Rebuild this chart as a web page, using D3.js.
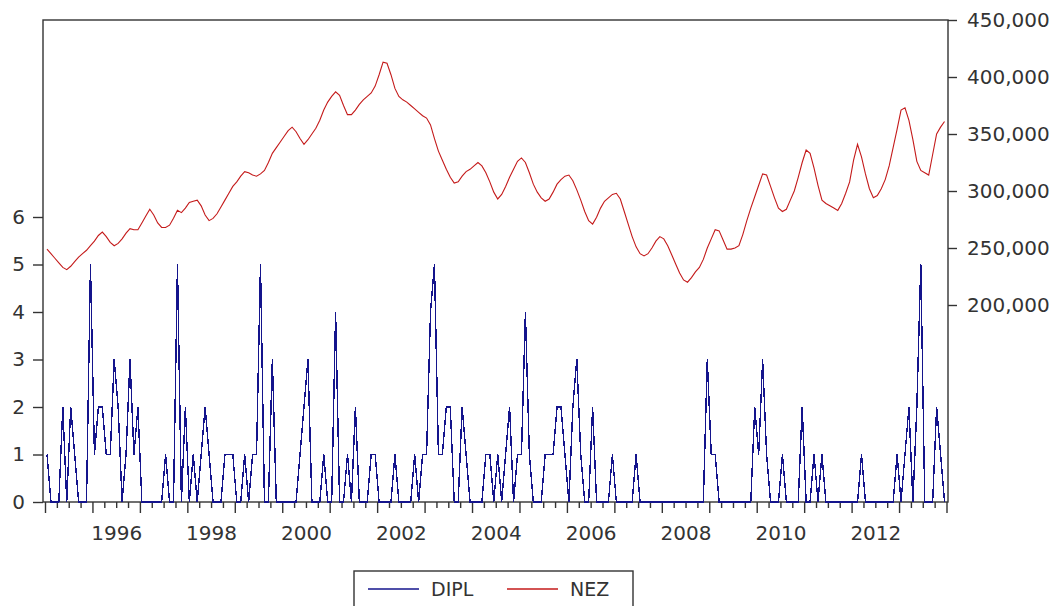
<!DOCTYPE html>
<html>
<head>
<meta charset="utf-8">
<script src="https://cdn.jsdelivr.net/npm/d3@7"></script>
<style>
  body { margin: 0; background: #fff; }
  svg { display: block; background: #fff; }
  text { font-family: "DejaVu Sans", sans-serif; fill: #333; }
</style>
</head>
<body>
<svg id="chart" width="1061" height="606"></svg>
<script>
// Monthly observations 1995M01 .. 2013M12 (228 months)
const startYear = 1995;
const endYear = 2014;

// DIPL, left axis
const dipl = [
  1, 0, 0, 0, 2, 0, 2, 1, 0, 0, 0, 5,   // 1995
  1, 2, 2, 1, 1, 3, 2, 0, 1, 3, 1, 2,   // 1996
  0, 0, 0, 0, 0, 0, 1, 0, 0, 5, 0, 2,   // 1997
  0, 1, 0, 1, 2, 1, 0, 0, 0, 1, 1, 1,   // 1998
  0, 0, 1, 0, 1, 1, 5, 0, 0, 3, 0, 0,   // 1999
  0, 0, 0, 0, 1, 2, 3, 0, 0, 0, 1, 0,   // 2000
  0, 4, 0, 0, 1, 0, 2, 0, 0, 0, 1, 1,   // 2001
  0, 0, 0, 0, 1, 0, 0, 0, 0, 1, 0, 1,   // 2002
  1, 4, 5, 1, 1, 2, 2, 0, 0, 2, 1, 0,   // 2003
  0, 0, 0, 1, 1, 0, 1, 0, 1, 2, 0, 1,   // 2004
  1, 4, 1, 0, 0, 0, 1, 1, 1, 2, 2, 1,   // 2005
  0, 2, 3, 1, 0, 0, 2, 0, 0, 0, 0, 1,   // 2006
  0, 0, 0, 0, 0, 1, 0, 0, 0, 0, 0, 0,   // 2007
  0, 0, 0, 0, 0, 0, 0, 0, 0, 0, 0, 3,   // 2008
  1, 1, 0, 0, 0, 0, 0, 0, 0, 0, 0, 2,   // 2009
  1, 3, 1, 0, 0, 0, 1, 0, 0, 0, 0, 2,   // 2010
  0, 0, 1, 0, 1, 0, 0, 0, 0, 0, 0, 0,   // 2011
  0, 0, 1, 0, 0, 0, 0, 0, 0, 0, 0, 1,   // 2012
  0, 1, 2, 0, 2, 5, 0, 0, 0, 2, 1, 0    // 2013
];

// NEZ, right axis
const nez = [
  249000, 245000, 241000, 237000, 233000, 231000, 234000, 238000, 242000, 245000, 248000, 252000,
  256000, 261000, 264000, 260000, 255000, 252000, 254000, 258000, 263000, 267000, 266000, 266000,
  272000, 278000, 284000, 279000, 272000, 268000, 268000, 270000, 276000, 283000, 281000, 285000,
  290000, 291000, 292000, 287000, 279000, 274000, 276000, 280000, 286000, 292000, 298000, 304000,
  308000, 313000, 317000, 316000, 314000, 313000, 315000, 318000, 325000, 333000, 338000, 343000,
  348000, 353000, 356000, 352000, 346000, 341000, 345000, 350000, 355000, 362000, 371000, 378000,
  383000, 387000, 384000, 375000, 367000, 367000, 371000, 376000, 380000, 383000, 386000, 392000,
  402000, 413000, 412000, 402000, 390000, 383000, 380000, 378000, 375000, 372000, 369000, 366000,
  364000, 358000, 346000, 335000, 327000, 319000, 312000, 307000, 308000, 313000, 317000, 319000,
  322000, 325000, 322000, 316000, 308000, 299000, 293000, 297000, 304000, 312000, 319000, 326000,
  329000, 325000, 316000, 306000, 299000, 294000, 291000, 293000, 299000, 306000, 310000, 313000,
  314000, 309000, 301000, 292000, 282000, 274000, 271000, 277000, 285000, 291000, 294000, 297000,
  298000, 293000, 282000, 271000, 260000, 251000, 245000, 243000, 245000, 250000, 256000, 260000,
  258000, 252000, 244000, 236000, 228000, 222000, 220000, 224000, 229000, 233000, 240000, 250000,
  258000, 266000, 265000, 257000, 249000, 249000, 250000, 252000, 262000, 274000, 285000, 295000,
  305000, 315000, 314000, 304000, 294000, 285000, 282000, 284000, 292000, 300000, 312000, 325000,
  336000, 333000, 320000, 305000, 292000, 289000, 287000, 285000, 283000, 289000, 298000, 308000,
  327000, 341000, 330000, 315000, 302000, 294000, 296000, 302000, 310000, 322000, 338000, 354000,
  371000, 373000, 362000, 345000, 326000, 318000, 316000, 314000, 332000, 350000, 356000, 361000
];

const leftTicks = [0, 1, 2, 3, 4, 5, 6];
const rightTicks = [200000, 250000, 300000, 350000, 400000, 450000];
const yearLabels = [1996, 1998, 2000, 2002, 2004, 2006, 2008, 2010, 2012];
const seriesNames = ["DIPL", "NEZ"];

const blue = "#14148c";
const red = "#c41a1a";
const ink = "#333";

const svg = d3.select("#chart");

// plot box
const box = { left: 43, top: 20, right: 948, bottom: 502 };

const x = d3.scaleLinear().domain([startYear, endYear]).range([45, 946.5]);
const yL = d3.scaleLinear().domain([0, 6]).range([box.bottom, 217]);
const yR = d3.scaleLinear().domain([200000, 450000]).range([305, box.top]);

// observation i sits in the middle of its month
const t = i => startYear + (i + 0.5) / 12;

// frame
svg.append("rect")
  .attr("x", box.left).attr("y", box.top)
  .attr("width", box.right - box.left).attr("height", box.bottom - box.top)
  .attr("fill", "none").attr("stroke", ink).attr("stroke-width", 1.4);

// left axis (DIPL)
const gL = svg.append("g").attr("transform", `translate(${box.left},0)`)
  .call(d3.axisLeft(yL).tickValues(leftTicks).tickSize(10).tickPadding(8).tickFormat(d3.format("d")));

// right axis (NEZ)
const gR = svg.append("g").attr("transform", `translate(${box.right},0)`)
  .call(d3.axisRight(yR).tickValues(rightTicks).tickSize(9).tickPadding(10).tickFormat(d3.format(",")));

// bottom axis: yearly major ticks, quarterly minor ticks, labels every second year
const quarters = d3.range(startYear * 4, endYear * 4).map(q => q / 4).filter(q => q % 1 !== 0);
const gMinor = svg.append("g").attr("transform", `translate(0,${box.bottom})`)
  .call(d3.axisBottom(x).tickValues(quarters).tickSize(6).tickFormat(""));
const gMajor = svg.append("g").attr("transform", `translate(0,${box.bottom})`)
  .call(d3.axisBottom(x).tickValues(d3.range(startYear, endYear + 1)).tickSize(11).tickFormat(""));
const gLab = svg.append("g").attr("transform", `translate(0,${box.bottom})`)
  .call(d3.axisBottom(x).tickValues(yearLabels.map(y => y + 0.5)).tickSize(0).tickPadding(24)
    .tickFormat(d => String(Math.floor(d))));

[gL, gR, gMinor, gMajor, gLab].forEach(g => {
  g.select(".domain").remove();
  g.selectAll(".tick line").attr("stroke", ink).attr("stroke-width", 1.4);
  g.selectAll(".tick text").attr("fill", ink).style("font-size", "20px")
    .style("font-family", '"DejaVu Sans", sans-serif');
});

// series
const lineL = d3.line().x((d, i) => x(t(i))).y(d => yL(d));
const lineR = d3.line().x((d, i) => x(t(i))).y(d => yR(d));

svg.append("path").datum(dipl)
  .attr("d", lineL)
  .attr("fill", "none").attr("stroke", blue).attr("stroke-width", 1.4)
  .attr("shape-rendering", "crispEdges");

svg.append("path").datum(nez)
  .attr("d", lineR)
  .attr("fill", "none").attr("stroke", red).attr("stroke-width", 1.1);

// legend
const leg = svg.append("g");
leg.append("rect").attr("x", 354).attr("y", 571).attr("width", 279).attr("height", 45)
  .attr("fill", "#fff").attr("stroke", ink).attr("stroke-width", 1.4);
const items = seriesNames.map((name, k) => ({ name, color: k === 0 ? blue : red, x0: k === 0 ? 368 : 507 }));
items.forEach(it => {
  leg.append("line").attr("x1", it.x0).attr("x2", it.x0 + 51).attr("y1", 589).attr("y2", 589)
    .attr("stroke", it.color).attr("stroke-width", 1.4);
  leg.append("text").attr("x", it.x0 + 63).attr("y", 596).style("font-size", "19px").text(it.name);
});
</script>
</body>
</html>
